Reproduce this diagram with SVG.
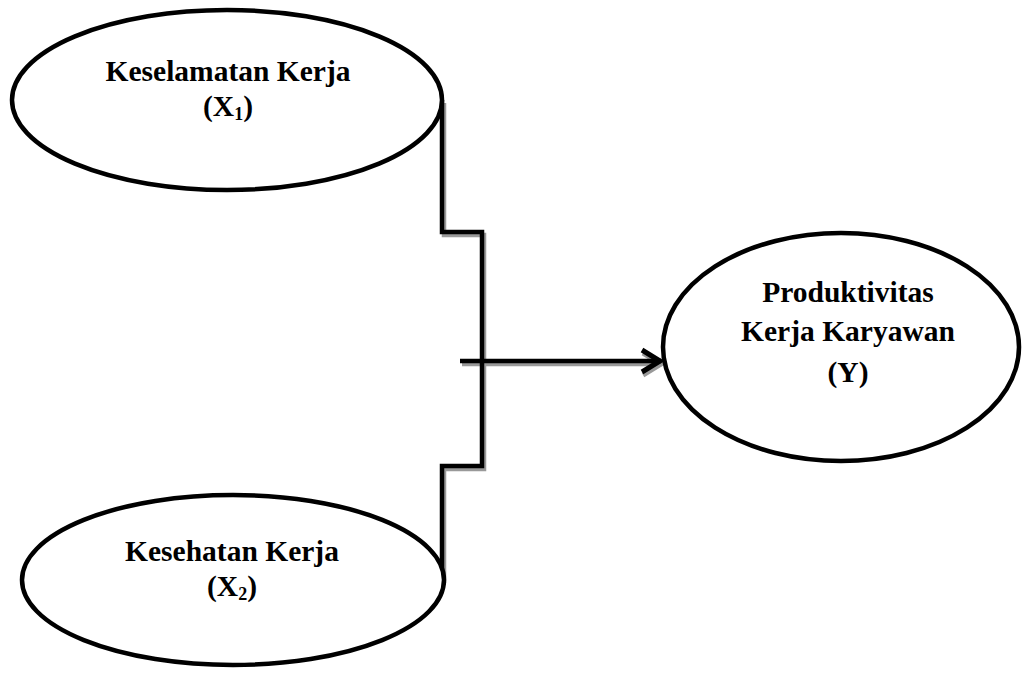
<svg xmlns="http://www.w3.org/2000/svg" width="1034" height="673" viewBox="0 0 1034 673">
<style>
.node{fill:#fff;stroke:#000;stroke-width:4.5}
.t{font-family:"Liberation Serif","Times New Roman",serif;font-weight:bold;font-size:29.5px;fill:#000;text-anchor:middle}
.sub{font-size:18px}
.ln{fill:none;stroke:#000;stroke-width:4.5;stroke-linejoin:miter}
.sh{fill:none;stroke:#999;stroke-width:4.5}
</style>
<defs>
<marker id="arr" markerWidth="26" markerHeight="30" refX="22" refY="15" orient="auto" markerUnits="userSpaceOnUse">
<path d="M3,4 L21,15 L3,26" fill="none" stroke="#000" stroke-width="5"/>
</marker>
<marker id="arrs" markerWidth="26" markerHeight="30" refX="22" refY="15" orient="auto" markerUnits="userSpaceOnUse">
<path d="M3,4 L21,15 L3,26" fill="none" stroke="#999" stroke-width="5"/>
</marker>
</defs>
<g id="connectors">
<path class="sh" d="M444,103 L444,235 L484,235 L484,469 L444,469 L444,583"/>
<path class="sh" d="M462,364 L662,364" stroke-width="5" marker-end="url(#arrs)"/>
<path class="ln" d="M442,100 L442,232 L482,232 L482,466 L442,466 L442,580"/>
<path class="ln" d="M460,361 L661,361" stroke-width="5" marker-end="url(#arr)"/>
</g>
<g id="x1">
<ellipse class="node" cx="227" cy="100" rx="215" ry="90"/>
<text class="t" x="228" y="81">Keselamatan Kerja</text>
<text class="t" x="228" y="116">(X<tspan class="sub" dy="4">1</tspan><tspan dy="-4">)</tspan></text>
</g>
<g id="x2">
<ellipse class="node" cx="233" cy="580" rx="211" ry="85"/>
<text class="t" x="232" y="561">Kesehatan Kerja</text>
<text class="t" x="232" y="596">(X<tspan class="sub" dy="4">2</tspan><tspan dy="-4">)</tspan></text>
</g>
<g id="y">
<ellipse class="node" cx="841" cy="347" rx="178" ry="114"/>
<text class="t" x="848" y="302">Produktivitas</text>
<text class="t" x="848" y="341">Kerja Karyawan</text>
<text class="t" x="848" y="382">(Y)</text>
</g>
</svg>
